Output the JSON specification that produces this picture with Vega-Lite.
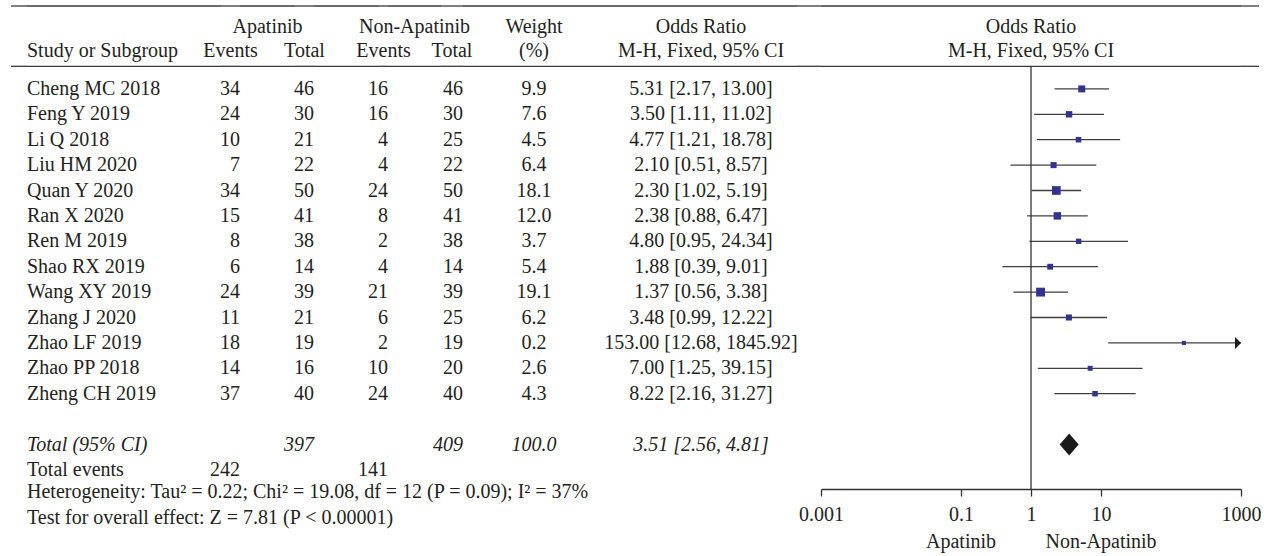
{
"$schema":"https://vega.github.io/schema/vega-lite/v6.json",
"background":"white",
"padding":{"left":10,"top":0,"right":0,"bottom":0},
"spacing":0,
"bounds":"flush",
"data":{"values":[
{"key":"Cheng MC 2018","label":"Cheng MC 2018","kind":"study","ev1":34,"tot1":46,"ev2":16,"tot2":46,"weight":9.9,"or":5.31,"lo":2.17,"hi":13.00,"ci":"5.31 [2.17, 13.00]"},
{"key":"Feng Y 2019","label":"Feng Y 2019","kind":"study","ev1":24,"tot1":30,"ev2":16,"tot2":30,"weight":7.6,"or":3.50,"lo":1.11,"hi":11.02,"ci":"3.50 [1.11, 11.02]"},
{"key":"Li Q 2018","label":"Li Q 2018","kind":"study","ev1":10,"tot1":21,"ev2":4,"tot2":25,"weight":4.5,"or":4.77,"lo":1.21,"hi":18.78,"ci":"4.77 [1.21, 18.78]"},
{"key":"Liu HM 2020","label":"Liu HM 2020","kind":"study","ev1":7,"tot1":22,"ev2":4,"tot2":22,"weight":6.4,"or":2.10,"lo":0.51,"hi":8.57,"ci":"2.10 [0.51, 8.57]"},
{"key":"Quan Y 2020","label":"Quan Y 2020","kind":"study","ev1":34,"tot1":50,"ev2":24,"tot2":50,"weight":18.1,"or":2.30,"lo":1.02,"hi":5.19,"ci":"2.30 [1.02, 5.19]"},
{"key":"Ran X 2020","label":"Ran X 2020","kind":"study","ev1":15,"tot1":41,"ev2":8,"tot2":41,"weight":12.0,"or":2.38,"lo":0.88,"hi":6.47,"ci":"2.38 [0.88, 6.47]"},
{"key":"Ren M 2019","label":"Ren M 2019","kind":"study","ev1":8,"tot1":38,"ev2":2,"tot2":38,"weight":3.7,"or":4.80,"lo":0.95,"hi":24.34,"ci":"4.80 [0.95, 24.34]"},
{"key":"Shao RX 2019","label":"Shao RX 2019","kind":"study","ev1":6,"tot1":14,"ev2":4,"tot2":14,"weight":5.4,"or":1.88,"lo":0.39,"hi":9.01,"ci":"1.88 [0.39, 9.01]"},
{"key":"Wang XY 2019","label":"Wang XY 2019","kind":"study","ev1":24,"tot1":39,"ev2":21,"tot2":39,"weight":19.1,"or":1.37,"lo":0.56,"hi":3.38,"ci":"1.37 [0.56, 3.38]"},
{"key":"Zhang J 2020","label":"Zhang J 2020","kind":"study","ev1":11,"tot1":21,"ev2":6,"tot2":25,"weight":6.2,"or":3.48,"lo":0.99,"hi":12.22,"ci":"3.48 [0.99, 12.22]"},
{"key":"Zhao LF 2019","label":"Zhao LF 2019","kind":"study","ev1":18,"tot1":19,"ev2":2,"tot2":19,"weight":0.2,"or":153.00,"lo":12.68,"hi":1845.92,"ci":"153.00 [12.68, 1845.92]"},
{"key":"Zhao PP 2018","label":"Zhao PP 2018","kind":"study","ev1":14,"tot1":16,"ev2":10,"tot2":20,"weight":2.6,"or":7.00,"lo":1.25,"hi":39.15,"ci":"7.00 [1.25, 39.15]"},
{"key":"Zheng CH 2019","label":"Zheng CH 2019","kind":"study","ev1":37,"tot1":40,"ev2":24,"tot2":40,"weight":4.3,"or":8.22,"lo":2.16,"hi":31.27,"ci":"8.22 [2.16, 31.27]"},
{"key":"total","label":"Total (95% CI)","kind":"total","tot1":397,"tot2":409,"weight":100.0,"or":3.51,"lo":2.56,"hi":4.81,"ci":"3.51 [2.56, 4.81]"},
{"key":"events","label":"Total events","kind":"events","ev1":242,"ev2":141},
{"key":"het","label":"Heterogeneity: Tau² = 0.22; Chi² = 19.08, df = 12 (P = 0.09); I² = 37%","kind":"note"},
{"key":"test","label":"Test for overall effect: Z = 7.81 (P < 0.00001)","kind":"note"}
]},
"hconcat":[
{"width":16,"height":489,"layer":[
 {"data":{"values":[{}]},"mark":{"type":"rule","color":"#3a3a3a","strokeWidth":1.3},"encoding":{"y":{"datum":"top","type":"nominal","bandPosition":0.236,"scale":{"type":"band","domain":["top","h1","h2","Cheng MC 2018","Feng Y 2019","Li Q 2018","Liu HM 2020","Quan Y 2020","Ran X 2020","Ren M 2019","Shao RX 2019","Wang XY 2019","Zhang J 2020","Zhao LF 2019","Zhao PP 2018","Zheng CH 2019","blank","total","events","het","test","sides"],"range":[0,558.8],"paddingInner":0,"paddingOuter":0},"axis":null}}},
 {"data":{"values":[{}]},"mark":{"type":"rule","color":"#3a3a3a","strokeWidth":1.3},"encoding":{"y":{"datum":"h2","type":"nominal","bandPosition":0.61,"scale":{"type":"band","domain":["top","h1","h2","Cheng MC 2018","Feng Y 2019","Li Q 2018","Liu HM 2020","Quan Y 2020","Ran X 2020","Ren M 2019","Shao RX 2019","Wang XY 2019","Zhang J 2020","Zhao LF 2019","Zhao PP 2018","Zheng CH 2019","blank","total","events","het","test","sides"],"range":[0,558.8],"paddingInner":0,"paddingOuter":0},"axis":null}}}
]},
{"width":194,"height":489,"layer":[
 {"data":{"values":[{}]},"mark":{"type":"rule","color":"#3a3a3a","strokeWidth":1.3},"encoding":{"y":{"datum":"top","type":"nominal","bandPosition":0.236,"scale":{"type":"band","domain":["top","h1","h2","Cheng MC 2018","Feng Y 2019","Li Q 2018","Liu HM 2020","Quan Y 2020","Ran X 2020","Ren M 2019","Shao RX 2019","Wang XY 2019","Zhang J 2020","Zhao LF 2019","Zhao PP 2018","Zheng CH 2019","blank","total","events","het","test","sides"],"range":[0,558.8],"paddingInner":0,"paddingOuter":0},"axis":null}}},
 {"data":{"values":[{}]},"mark":{"type":"rule","color":"#3a3a3a","strokeWidth":1.3},"encoding":{"y":{"datum":"h2","type":"nominal","bandPosition":0.61,"scale":{"type":"band","domain":["top","h1","h2","Cheng MC 2018","Feng Y 2019","Li Q 2018","Liu HM 2020","Quan Y 2020","Ran X 2020","Ren M 2019","Shao RX 2019","Wang XY 2019","Zhang J 2020","Zhao LF 2019","Zhao PP 2018","Zheng CH 2019","blank","total","events","het","test","sides"],"range":[0,558.8],"paddingInner":0,"paddingOuter":0},"axis":null}}},
 {"data":{"values":[{}]},"mark":{"type":"text","baseline":"alphabetic","align":"left"},"encoding":{"x":{"datum":"c","type":"nominal","scale":{"type":"band","domain":["c"],"paddingInner":0,"paddingOuter":0},"bandPosition":0,"axis":null},"y":{"datum":"h2","type":"nominal","bandPosition":0.256,"scale":{"type":"band","domain":["top","h1","h2","Cheng MC 2018","Feng Y 2019","Li Q 2018","Liu HM 2020","Quan Y 2020","Ran X 2020","Ren M 2019","Shao RX 2019","Wang XY 2019","Zhang J 2020","Zhao LF 2019","Zhao PP 2018","Zheng CH 2019","blank","total","events","het","test","sides"],"range":[0,558.8],"paddingInner":0,"paddingOuter":0},"axis":null},"text":{"value":"Study or Subgroup"}}},
 {"transform":[{"filter":"datum.kind === 'study' || datum.kind === 'events'"}],"mark":{"type":"text","align":"left"},"encoding":{"x":{"datum":"c","type":"nominal","scale":{"type":"band","domain":["c"],"paddingInner":0,"paddingOuter":0},"bandPosition":0,"axis":null},"y":{"field":"key","type":"nominal","scale":{"type":"band","domain":["top","h1","h2","Cheng MC 2018","Feng Y 2019","Li Q 2018","Liu HM 2020","Quan Y 2020","Ran X 2020","Ren M 2019","Shao RX 2019","Wang XY 2019","Zhang J 2020","Zhao LF 2019","Zhao PP 2018","Zheng CH 2019","blank","total","events","het","test","sides"],"range":[0,558.8],"paddingInner":0,"paddingOuter":0},"axis":null},"text":{"field":"label","type":"nominal"}}},
 {"transform":[{"filter":"datum.kind === 'note'"}],"mark":{"type":"text","align":"left"},"encoding":{"x":{"datum":"c","type":"nominal","scale":{"type":"band","domain":["c"],"paddingInner":0,"paddingOuter":0},"bandPosition":0,"axis":null},"y":{"field":"key","type":"nominal","bandPosition":0.38,"scale":{"type":"band","domain":["top","h1","h2","Cheng MC 2018","Feng Y 2019","Li Q 2018","Liu HM 2020","Quan Y 2020","Ran X 2020","Ren M 2019","Shao RX 2019","Wang XY 2019","Zhang J 2020","Zhao LF 2019","Zhao PP 2018","Zheng CH 2019","blank","total","events","het","test","sides"],"range":[0,558.8],"paddingInner":0,"paddingOuter":0},"axis":null},"text":{"field":"label","type":"nominal"}}},
 {"transform":[{"filter":"datum.kind === 'total'"}],"mark":{"type":"text","align":"left","fontStyle":"italic"},"encoding":{"x":{"datum":"c","type":"nominal","scale":{"type":"band","domain":["c"],"paddingInner":0,"paddingOuter":0},"bandPosition":0,"axis":null},"y":{"field":"key","type":"nominal","scale":{"type":"band","domain":["top","h1","h2","Cheng MC 2018","Feng Y 2019","Li Q 2018","Liu HM 2020","Quan Y 2020","Ran X 2020","Ren M 2019","Shao RX 2019","Wang XY 2019","Zhang J 2020","Zhao LF 2019","Zhao PP 2018","Zheng CH 2019","blank","total","events","het","test","sides"],"range":[0,558.8],"paddingInner":0,"paddingOuter":0},"axis":null},"text":{"field":"label","type":"nominal"}}}
]},
{"width":19,"height":489,"layer":[
 {"data":{"values":[{}]},"mark":{"type":"rule","color":"#3a3a3a","strokeWidth":1.3},"encoding":{"y":{"datum":"top","type":"nominal","bandPosition":0.236,"scale":{"type":"band","domain":["top","h1","h2","Cheng MC 2018","Feng Y 2019","Li Q 2018","Liu HM 2020","Quan Y 2020","Ran X 2020","Ren M 2019","Shao RX 2019","Wang XY 2019","Zhang J 2020","Zhao LF 2019","Zhao PP 2018","Zheng CH 2019","blank","total","events","het","test","sides"],"range":[0,558.8],"paddingInner":0,"paddingOuter":0},"axis":null}}},
 {"data":{"values":[{}]},"mark":{"type":"rule","color":"#3a3a3a","strokeWidth":1.3},"encoding":{"y":{"datum":"h2","type":"nominal","bandPosition":0.61,"scale":{"type":"band","domain":["top","h1","h2","Cheng MC 2018","Feng Y 2019","Li Q 2018","Liu HM 2020","Quan Y 2020","Ran X 2020","Ren M 2019","Shao RX 2019","Wang XY 2019","Zhang J 2020","Zhao LF 2019","Zhao PP 2018","Zheng CH 2019","blank","total","events","het","test","sides"],"range":[0,558.8],"paddingInner":0,"paddingOuter":0},"axis":null}}},
 {"data":{"values":[{}]},"mark":{"type":"text","baseline":"alphabetic"},"encoding":{"y":{"datum":"h2","type":"nominal","bandPosition":0.256,"scale":{"type":"band","domain":["top","h1","h2","Cheng MC 2018","Feng Y 2019","Li Q 2018","Liu HM 2020","Quan Y 2020","Ran X 2020","Ren M 2019","Shao RX 2019","Wang XY 2019","Zhang J 2020","Zhao LF 2019","Zhao PP 2018","Zheng CH 2019","blank","total","events","het","test","sides"],"range":[0,558.8],"paddingInner":0,"paddingOuter":0},"axis":null},"text":{"value":"Events"}}},
 {"transform":[{"filter":{"field":"ev1","valid":true}}],"mark":{"type":"text","align":"right"},"encoding":{"x":{"datum":"c","type":"nominal","scale":{"type":"band","domain":["c"],"paddingInner":0,"paddingOuter":0},"bandPosition":1,"axis":null},"y":{"field":"key","type":"nominal","scale":{"type":"band","domain":["top","h1","h2","Cheng MC 2018","Feng Y 2019","Li Q 2018","Liu HM 2020","Quan Y 2020","Ran X 2020","Ren M 2019","Shao RX 2019","Wang XY 2019","Zhang J 2020","Zhao LF 2019","Zhao PP 2018","Zheng CH 2019","blank","total","events","het","test","sides"],"range":[0,558.8],"paddingInner":0,"paddingOuter":0},"axis":null},"text":{"field":"ev1","type":"quantitative","format":"d"}}}
]},
{"width":55,"height":489,"layer":[
 {"data":{"values":[{}]},"mark":{"type":"rule","color":"#3a3a3a","strokeWidth":1.3},"encoding":{"y":{"datum":"top","type":"nominal","bandPosition":0.236,"scale":{"type":"band","domain":["top","h1","h2","Cheng MC 2018","Feng Y 2019","Li Q 2018","Liu HM 2020","Quan Y 2020","Ran X 2020","Ren M 2019","Shao RX 2019","Wang XY 2019","Zhang J 2020","Zhao LF 2019","Zhao PP 2018","Zheng CH 2019","blank","total","events","het","test","sides"],"range":[0,558.8],"paddingInner":0,"paddingOuter":0},"axis":null}}},
 {"data":{"values":[{}]},"mark":{"type":"rule","color":"#3a3a3a","strokeWidth":1.3},"encoding":{"y":{"datum":"h2","type":"nominal","bandPosition":0.61,"scale":{"type":"band","domain":["top","h1","h2","Cheng MC 2018","Feng Y 2019","Li Q 2018","Liu HM 2020","Quan Y 2020","Ran X 2020","Ren M 2019","Shao RX 2019","Wang XY 2019","Zhang J 2020","Zhao LF 2019","Zhao PP 2018","Zheng CH 2019","blank","total","events","het","test","sides"],"range":[0,558.8],"paddingInner":0,"paddingOuter":0},"axis":null}}},
 {"data":{"values":[{}]},"mark":{"type":"text","baseline":"alphabetic"},"encoding":{"y":{"datum":"h1","type":"nominal","bandPosition":0.28,"scale":{"type":"band","domain":["top","h1","h2","Cheng MC 2018","Feng Y 2019","Li Q 2018","Liu HM 2020","Quan Y 2020","Ran X 2020","Ren M 2019","Shao RX 2019","Wang XY 2019","Zhang J 2020","Zhao LF 2019","Zhao PP 2018","Zheng CH 2019","blank","total","events","het","test","sides"],"range":[0,558.8],"paddingInner":0,"paddingOuter":0},"axis":null},"text":{"value":"Apatinib"}}}
]},
{"width":19,"height":489,"layer":[
 {"data":{"values":[{}]},"mark":{"type":"rule","color":"#3a3a3a","strokeWidth":1.3},"encoding":{"y":{"datum":"top","type":"nominal","bandPosition":0.236,"scale":{"type":"band","domain":["top","h1","h2","Cheng MC 2018","Feng Y 2019","Li Q 2018","Liu HM 2020","Quan Y 2020","Ran X 2020","Ren M 2019","Shao RX 2019","Wang XY 2019","Zhang J 2020","Zhao LF 2019","Zhao PP 2018","Zheng CH 2019","blank","total","events","het","test","sides"],"range":[0,558.8],"paddingInner":0,"paddingOuter":0},"axis":null}}},
 {"data":{"values":[{}]},"mark":{"type":"rule","color":"#3a3a3a","strokeWidth":1.3},"encoding":{"y":{"datum":"h2","type":"nominal","bandPosition":0.61,"scale":{"type":"band","domain":["top","h1","h2","Cheng MC 2018","Feng Y 2019","Li Q 2018","Liu HM 2020","Quan Y 2020","Ran X 2020","Ren M 2019","Shao RX 2019","Wang XY 2019","Zhang J 2020","Zhao LF 2019","Zhao PP 2018","Zheng CH 2019","blank","total","events","het","test","sides"],"range":[0,558.8],"paddingInner":0,"paddingOuter":0},"axis":null}}},
 {"data":{"values":[{}]},"mark":{"type":"text","baseline":"alphabetic"},"encoding":{"y":{"datum":"h2","type":"nominal","bandPosition":0.256,"scale":{"type":"band","domain":["top","h1","h2","Cheng MC 2018","Feng Y 2019","Li Q 2018","Liu HM 2020","Quan Y 2020","Ran X 2020","Ren M 2019","Shao RX 2019","Wang XY 2019","Zhang J 2020","Zhao LF 2019","Zhao PP 2018","Zheng CH 2019","blank","total","events","het","test","sides"],"range":[0,558.8],"paddingInner":0,"paddingOuter":0},"axis":null},"text":{"value":"Total"}}},
 {"transform":[{"filter":"isValid(datum.tot1) && datum.kind !== 'total'"}],"mark":{"type":"text","align":"right"},"encoding":{"x":{"datum":"c","type":"nominal","scale":{"type":"band","domain":["c"],"paddingInner":0,"paddingOuter":0},"bandPosition":1,"axis":null},"y":{"field":"key","type":"nominal","scale":{"type":"band","domain":["top","h1","h2","Cheng MC 2018","Feng Y 2019","Li Q 2018","Liu HM 2020","Quan Y 2020","Ran X 2020","Ren M 2019","Shao RX 2019","Wang XY 2019","Zhang J 2020","Zhao LF 2019","Zhao PP 2018","Zheng CH 2019","blank","total","events","het","test","sides"],"range":[0,558.8],"paddingInner":0,"paddingOuter":0},"axis":null},"text":{"field":"tot1","type":"quantitative","format":"d"}}},
 {"transform":[{"filter":"datum.kind === 'total'"}],"mark":{"type":"text","align":"right","fontStyle":"italic"},"encoding":{"x":{"datum":"c","type":"nominal","scale":{"type":"band","domain":["c"],"paddingInner":0,"paddingOuter":0},"bandPosition":1,"axis":null},"y":{"field":"key","type":"nominal","scale":{"type":"band","domain":["top","h1","h2","Cheng MC 2018","Feng Y 2019","Li Q 2018","Liu HM 2020","Quan Y 2020","Ran X 2020","Ren M 2019","Shao RX 2019","Wang XY 2019","Zhang J 2020","Zhao LF 2019","Zhao PP 2018","Zheng CH 2019","blank","total","events","het","test","sides"],"range":[0,558.8],"paddingInner":0,"paddingOuter":0},"axis":null},"text":{"field":"tot1","type":"quantitative","format":"d"}}}
]},
{"width":65,"height":489,"layer":[
 {"data":{"values":[{}]},"mark":{"type":"rule","color":"#3a3a3a","strokeWidth":1.3},"encoding":{"y":{"datum":"top","type":"nominal","bandPosition":0.236,"scale":{"type":"band","domain":["top","h1","h2","Cheng MC 2018","Feng Y 2019","Li Q 2018","Liu HM 2020","Quan Y 2020","Ran X 2020","Ren M 2019","Shao RX 2019","Wang XY 2019","Zhang J 2020","Zhao LF 2019","Zhao PP 2018","Zheng CH 2019","blank","total","events","het","test","sides"],"range":[0,558.8],"paddingInner":0,"paddingOuter":0},"axis":null}}},
 {"data":{"values":[{}]},"mark":{"type":"rule","color":"#3a3a3a","strokeWidth":1.3},"encoding":{"y":{"datum":"h2","type":"nominal","bandPosition":0.61,"scale":{"type":"band","domain":["top","h1","h2","Cheng MC 2018","Feng Y 2019","Li Q 2018","Liu HM 2020","Quan Y 2020","Ran X 2020","Ren M 2019","Shao RX 2019","Wang XY 2019","Zhang J 2020","Zhao LF 2019","Zhao PP 2018","Zheng CH 2019","blank","total","events","het","test","sides"],"range":[0,558.8],"paddingInner":0,"paddingOuter":0},"axis":null}}}
]},
{"width":9,"height":489,"layer":[
 {"data":{"values":[{}]},"mark":{"type":"rule","color":"#3a3a3a","strokeWidth":1.3},"encoding":{"y":{"datum":"top","type":"nominal","bandPosition":0.236,"scale":{"type":"band","domain":["top","h1","h2","Cheng MC 2018","Feng Y 2019","Li Q 2018","Liu HM 2020","Quan Y 2020","Ran X 2020","Ren M 2019","Shao RX 2019","Wang XY 2019","Zhang J 2020","Zhao LF 2019","Zhao PP 2018","Zheng CH 2019","blank","total","events","het","test","sides"],"range":[0,558.8],"paddingInner":0,"paddingOuter":0},"axis":null}}},
 {"data":{"values":[{}]},"mark":{"type":"rule","color":"#3a3a3a","strokeWidth":1.3},"encoding":{"y":{"datum":"h2","type":"nominal","bandPosition":0.61,"scale":{"type":"band","domain":["top","h1","h2","Cheng MC 2018","Feng Y 2019","Li Q 2018","Liu HM 2020","Quan Y 2020","Ran X 2020","Ren M 2019","Shao RX 2019","Wang XY 2019","Zhang J 2020","Zhao LF 2019","Zhao PP 2018","Zheng CH 2019","blank","total","events","het","test","sides"],"range":[0,558.8],"paddingInner":0,"paddingOuter":0},"axis":null}}},
 {"data":{"values":[{}]},"mark":{"type":"text","baseline":"alphabetic"},"encoding":{"y":{"datum":"h2","type":"nominal","bandPosition":0.256,"scale":{"type":"band","domain":["top","h1","h2","Cheng MC 2018","Feng Y 2019","Li Q 2018","Liu HM 2020","Quan Y 2020","Ran X 2020","Ren M 2019","Shao RX 2019","Wang XY 2019","Zhang J 2020","Zhao LF 2019","Zhao PP 2018","Zheng CH 2019","blank","total","events","het","test","sides"],"range":[0,558.8],"paddingInner":0,"paddingOuter":0},"axis":null},"text":{"value":"Events"}}},
 {"transform":[{"filter":{"field":"ev2","valid":true}}],"mark":{"type":"text","align":"right"},"encoding":{"x":{"datum":"c","type":"nominal","scale":{"type":"band","domain":["c"],"paddingInner":0,"paddingOuter":0},"bandPosition":1,"axis":null},"y":{"field":"key","type":"nominal","scale":{"type":"band","domain":["top","h1","h2","Cheng MC 2018","Feng Y 2019","Li Q 2018","Liu HM 2020","Quan Y 2020","Ran X 2020","Ren M 2019","Shao RX 2019","Wang XY 2019","Zhang J 2020","Zhao LF 2019","Zhao PP 2018","Zheng CH 2019","blank","total","events","het","test","sides"],"range":[0,558.8],"paddingInner":0,"paddingOuter":0},"axis":null},"text":{"field":"ev2","type":"quantitative","format":"d"}}}
]},
{"width":53,"height":489,"layer":[
 {"data":{"values":[{}]},"mark":{"type":"rule","color":"#3a3a3a","strokeWidth":1.3},"encoding":{"y":{"datum":"top","type":"nominal","bandPosition":0.236,"scale":{"type":"band","domain":["top","h1","h2","Cheng MC 2018","Feng Y 2019","Li Q 2018","Liu HM 2020","Quan Y 2020","Ran X 2020","Ren M 2019","Shao RX 2019","Wang XY 2019","Zhang J 2020","Zhao LF 2019","Zhao PP 2018","Zheng CH 2019","blank","total","events","het","test","sides"],"range":[0,558.8],"paddingInner":0,"paddingOuter":0},"axis":null}}},
 {"data":{"values":[{}]},"mark":{"type":"rule","color":"#3a3a3a","strokeWidth":1.3},"encoding":{"y":{"datum":"h2","type":"nominal","bandPosition":0.61,"scale":{"type":"band","domain":["top","h1","h2","Cheng MC 2018","Feng Y 2019","Li Q 2018","Liu HM 2020","Quan Y 2020","Ran X 2020","Ren M 2019","Shao RX 2019","Wang XY 2019","Zhang J 2020","Zhao LF 2019","Zhao PP 2018","Zheng CH 2019","blank","total","events","het","test","sides"],"range":[0,558.8],"paddingInner":0,"paddingOuter":0},"axis":null}}},
 {"data":{"values":[{}]},"mark":{"type":"text","baseline":"alphabetic"},"encoding":{"y":{"datum":"h1","type":"nominal","bandPosition":0.28,"scale":{"type":"band","domain":["top","h1","h2","Cheng MC 2018","Feng Y 2019","Li Q 2018","Liu HM 2020","Quan Y 2020","Ran X 2020","Ren M 2019","Shao RX 2019","Wang XY 2019","Zhang J 2020","Zhao LF 2019","Zhao PP 2018","Zheng CH 2019","blank","total","events","het","test","sides"],"range":[0,558.8],"paddingInner":0,"paddingOuter":0},"axis":null},"text":{"value":"Non-Apatinib"}}}
]},
{"width":22,"height":489,"layer":[
 {"data":{"values":[{}]},"mark":{"type":"rule","color":"#3a3a3a","strokeWidth":1.3},"encoding":{"y":{"datum":"top","type":"nominal","bandPosition":0.236,"scale":{"type":"band","domain":["top","h1","h2","Cheng MC 2018","Feng Y 2019","Li Q 2018","Liu HM 2020","Quan Y 2020","Ran X 2020","Ren M 2019","Shao RX 2019","Wang XY 2019","Zhang J 2020","Zhao LF 2019","Zhao PP 2018","Zheng CH 2019","blank","total","events","het","test","sides"],"range":[0,558.8],"paddingInner":0,"paddingOuter":0},"axis":null}}},
 {"data":{"values":[{}]},"mark":{"type":"rule","color":"#3a3a3a","strokeWidth":1.3},"encoding":{"y":{"datum":"h2","type":"nominal","bandPosition":0.61,"scale":{"type":"band","domain":["top","h1","h2","Cheng MC 2018","Feng Y 2019","Li Q 2018","Liu HM 2020","Quan Y 2020","Ran X 2020","Ren M 2019","Shao RX 2019","Wang XY 2019","Zhang J 2020","Zhao LF 2019","Zhao PP 2018","Zheng CH 2019","blank","total","events","het","test","sides"],"range":[0,558.8],"paddingInner":0,"paddingOuter":0},"axis":null}}},
 {"data":{"values":[{}]},"mark":{"type":"text","baseline":"alphabetic"},"encoding":{"y":{"datum":"h2","type":"nominal","bandPosition":0.256,"scale":{"type":"band","domain":["top","h1","h2","Cheng MC 2018","Feng Y 2019","Li Q 2018","Liu HM 2020","Quan Y 2020","Ran X 2020","Ren M 2019","Shao RX 2019","Wang XY 2019","Zhang J 2020","Zhao LF 2019","Zhao PP 2018","Zheng CH 2019","blank","total","events","het","test","sides"],"range":[0,558.8],"paddingInner":0,"paddingOuter":0},"axis":null},"text":{"value":"Total"}}},
 {"transform":[{"filter":"isValid(datum.tot2) && datum.kind !== 'total'"}],"mark":{"type":"text","align":"right"},"encoding":{"x":{"datum":"c","type":"nominal","scale":{"type":"band","domain":["c"],"paddingInner":0,"paddingOuter":0},"bandPosition":1,"axis":null},"y":{"field":"key","type":"nominal","scale":{"type":"band","domain":["top","h1","h2","Cheng MC 2018","Feng Y 2019","Li Q 2018","Liu HM 2020","Quan Y 2020","Ran X 2020","Ren M 2019","Shao RX 2019","Wang XY 2019","Zhang J 2020","Zhao LF 2019","Zhao PP 2018","Zheng CH 2019","blank","total","events","het","test","sides"],"range":[0,558.8],"paddingInner":0,"paddingOuter":0},"axis":null},"text":{"field":"tot2","type":"quantitative","format":"d"}}},
 {"transform":[{"filter":"datum.kind === 'total'"}],"mark":{"type":"text","align":"right","fontStyle":"italic"},"encoding":{"x":{"datum":"c","type":"nominal","scale":{"type":"band","domain":["c"],"paddingInner":0,"paddingOuter":0},"bandPosition":1,"axis":null},"y":{"field":"key","type":"nominal","scale":{"type":"band","domain":["top","h1","h2","Cheng MC 2018","Feng Y 2019","Li Q 2018","Liu HM 2020","Quan Y 2020","Ran X 2020","Ren M 2019","Shao RX 2019","Wang XY 2019","Zhang J 2020","Zhao LF 2019","Zhao PP 2018","Zheng CH 2019","blank","total","events","het","test","sides"],"range":[0,558.8],"paddingInner":0,"paddingOuter":0},"axis":null},"text":{"field":"tot2","type":"quantitative","format":"d"}}}
]},
{"width":142,"height":489,"layer":[
 {"data":{"values":[{}]},"mark":{"type":"rule","color":"#3a3a3a","strokeWidth":1.3},"encoding":{"y":{"datum":"top","type":"nominal","bandPosition":0.236,"scale":{"type":"band","domain":["top","h1","h2","Cheng MC 2018","Feng Y 2019","Li Q 2018","Liu HM 2020","Quan Y 2020","Ran X 2020","Ren M 2019","Shao RX 2019","Wang XY 2019","Zhang J 2020","Zhao LF 2019","Zhao PP 2018","Zheng CH 2019","blank","total","events","het","test","sides"],"range":[0,558.8],"paddingInner":0,"paddingOuter":0},"axis":null}}},
 {"data":{"values":[{}]},"mark":{"type":"rule","color":"#3a3a3a","strokeWidth":1.3},"encoding":{"y":{"datum":"h2","type":"nominal","bandPosition":0.61,"scale":{"type":"band","domain":["top","h1","h2","Cheng MC 2018","Feng Y 2019","Li Q 2018","Liu HM 2020","Quan Y 2020","Ran X 2020","Ren M 2019","Shao RX 2019","Wang XY 2019","Zhang J 2020","Zhao LF 2019","Zhao PP 2018","Zheng CH 2019","blank","total","events","het","test","sides"],"range":[0,558.8],"paddingInner":0,"paddingOuter":0},"axis":null}}},
 {"data":{"values":[{}]},"mark":{"type":"text","baseline":"alphabetic"},"encoding":{"y":{"datum":"h1","type":"nominal","bandPosition":0.28,"scale":{"type":"band","domain":["top","h1","h2","Cheng MC 2018","Feng Y 2019","Li Q 2018","Liu HM 2020","Quan Y 2020","Ran X 2020","Ren M 2019","Shao RX 2019","Wang XY 2019","Zhang J 2020","Zhao LF 2019","Zhao PP 2018","Zheng CH 2019","blank","total","events","het","test","sides"],"range":[0,558.8],"paddingInner":0,"paddingOuter":0},"axis":null},"text":{"value":"Weight"}}},
 {"data":{"values":[{}]},"mark":{"type":"text","baseline":"alphabetic"},"encoding":{"y":{"datum":"h2","type":"nominal","bandPosition":0.256,"scale":{"type":"band","domain":["top","h1","h2","Cheng MC 2018","Feng Y 2019","Li Q 2018","Liu HM 2020","Quan Y 2020","Ran X 2020","Ren M 2019","Shao RX 2019","Wang XY 2019","Zhang J 2020","Zhao LF 2019","Zhao PP 2018","Zheng CH 2019","blank","total","events","het","test","sides"],"range":[0,558.8],"paddingInner":0,"paddingOuter":0},"axis":null},"text":{"value":"(%)"}}},
 {"transform":[{"filter":"datum.kind === 'study'"}],"mark":{"type":"text"},"encoding":{"y":{"field":"key","type":"nominal","scale":{"type":"band","domain":["top","h1","h2","Cheng MC 2018","Feng Y 2019","Li Q 2018","Liu HM 2020","Quan Y 2020","Ran X 2020","Ren M 2019","Shao RX 2019","Wang XY 2019","Zhang J 2020","Zhao LF 2019","Zhao PP 2018","Zheng CH 2019","blank","total","events","het","test","sides"],"range":[0,558.8],"paddingInner":0,"paddingOuter":0},"axis":null},"text":{"field":"weight","type":"quantitative","format":".1f"}}},
 {"transform":[{"filter":"datum.kind === 'total'"}],"mark":{"type":"text","fontStyle":"italic"},"encoding":{"y":{"field":"key","type":"nominal","scale":{"type":"band","domain":["top","h1","h2","Cheng MC 2018","Feng Y 2019","Li Q 2018","Liu HM 2020","Quan Y 2020","Ran X 2020","Ren M 2019","Shao RX 2019","Wang XY 2019","Zhang J 2020","Zhao LF 2019","Zhao PP 2018","Zheng CH 2019","blank","total","events","het","test","sides"],"range":[0,558.8],"paddingInner":0,"paddingOuter":0},"axis":null},"text":{"field":"weight","type":"quantitative","format":".1f"}}}
]},
{"width":192,"height":489,"layer":[
 {"data":{"values":[{}]},"mark":{"type":"rule","color":"#3a3a3a","strokeWidth":1.3},"encoding":{"y":{"datum":"top","type":"nominal","bandPosition":0.236,"scale":{"type":"band","domain":["top","h1","h2","Cheng MC 2018","Feng Y 2019","Li Q 2018","Liu HM 2020","Quan Y 2020","Ran X 2020","Ren M 2019","Shao RX 2019","Wang XY 2019","Zhang J 2020","Zhao LF 2019","Zhao PP 2018","Zheng CH 2019","blank","total","events","het","test","sides"],"range":[0,558.8],"paddingInner":0,"paddingOuter":0},"axis":null}}},
 {"data":{"values":[{}]},"mark":{"type":"rule","color":"#3a3a3a","strokeWidth":1.3},"encoding":{"y":{"datum":"h2","type":"nominal","bandPosition":0.61,"scale":{"type":"band","domain":["top","h1","h2","Cheng MC 2018","Feng Y 2019","Li Q 2018","Liu HM 2020","Quan Y 2020","Ran X 2020","Ren M 2019","Shao RX 2019","Wang XY 2019","Zhang J 2020","Zhao LF 2019","Zhao PP 2018","Zheng CH 2019","blank","total","events","het","test","sides"],"range":[0,558.8],"paddingInner":0,"paddingOuter":0},"axis":null}}},
 {"data":{"values":[{}]},"mark":{"type":"text","baseline":"alphabetic"},"encoding":{"y":{"datum":"h1","type":"nominal","bandPosition":0.28,"scale":{"type":"band","domain":["top","h1","h2","Cheng MC 2018","Feng Y 2019","Li Q 2018","Liu HM 2020","Quan Y 2020","Ran X 2020","Ren M 2019","Shao RX 2019","Wang XY 2019","Zhang J 2020","Zhao LF 2019","Zhao PP 2018","Zheng CH 2019","blank","total","events","het","test","sides"],"range":[0,558.8],"paddingInner":0,"paddingOuter":0},"axis":null},"text":{"value":"Odds Ratio"}}},
 {"data":{"values":[{}]},"mark":{"type":"text","baseline":"alphabetic"},"encoding":{"y":{"datum":"h2","type":"nominal","bandPosition":0.256,"scale":{"type":"band","domain":["top","h1","h2","Cheng MC 2018","Feng Y 2019","Li Q 2018","Liu HM 2020","Quan Y 2020","Ran X 2020","Ren M 2019","Shao RX 2019","Wang XY 2019","Zhang J 2020","Zhao LF 2019","Zhao PP 2018","Zheng CH 2019","blank","total","events","het","test","sides"],"range":[0,558.8],"paddingInner":0,"paddingOuter":0},"axis":null},"text":{"value":"M-H, Fixed, 95% CI"}}},
 {"transform":[{"filter":"datum.kind === 'study'"}],"mark":{"type":"text"},"encoding":{"y":{"field":"key","type":"nominal","scale":{"type":"band","domain":["top","h1","h2","Cheng MC 2018","Feng Y 2019","Li Q 2018","Liu HM 2020","Quan Y 2020","Ran X 2020","Ren M 2019","Shao RX 2019","Wang XY 2019","Zhang J 2020","Zhao LF 2019","Zhao PP 2018","Zheng CH 2019","blank","total","events","het","test","sides"],"range":[0,558.8],"paddingInner":0,"paddingOuter":0},"axis":null},"text":{"field":"ci","type":"nominal"}}},
 {"transform":[{"filter":"datum.kind === 'total'"}],"mark":{"type":"text","fontStyle":"italic"},"encoding":{"y":{"field":"key","type":"nominal","scale":{"type":"band","domain":["top","h1","h2","Cheng MC 2018","Feng Y 2019","Li Q 2018","Liu HM 2020","Quan Y 2020","Ran X 2020","Ren M 2019","Shao RX 2019","Wang XY 2019","Zhang J 2020","Zhao LF 2019","Zhao PP 2018","Zheng CH 2019","blank","total","events","het","test","sides"],"range":[0,558.8],"paddingInner":0,"paddingOuter":0},"axis":null},"text":{"field":"ci","type":"nominal"}}}
]},
{"width":24,"height":489,"layer":[
 {"data":{"values":[{}]},"mark":{"type":"rule","color":"#3a3a3a","strokeWidth":1.3},"encoding":{"y":{"datum":"top","type":"nominal","bandPosition":0.236,"scale":{"type":"band","domain":["top","h1","h2","Cheng MC 2018","Feng Y 2019","Li Q 2018","Liu HM 2020","Quan Y 2020","Ran X 2020","Ren M 2019","Shao RX 2019","Wang XY 2019","Zhang J 2020","Zhao LF 2019","Zhao PP 2018","Zheng CH 2019","blank","total","events","het","test","sides"],"range":[0,558.8],"paddingInner":0,"paddingOuter":0},"axis":null}}},
 {"data":{"values":[{}]},"mark":{"type":"rule","color":"#3a3a3a","strokeWidth":1.3},"encoding":{"y":{"datum":"h2","type":"nominal","bandPosition":0.61,"scale":{"type":"band","domain":["top","h1","h2","Cheng MC 2018","Feng Y 2019","Li Q 2018","Liu HM 2020","Quan Y 2020","Ran X 2020","Ren M 2019","Shao RX 2019","Wang XY 2019","Zhang J 2020","Zhao LF 2019","Zhao PP 2018","Zheng CH 2019","blank","total","events","het","test","sides"],"range":[0,558.8],"paddingInner":0,"paddingOuter":0},"axis":null}}}
]},
{"width":420,"height":489,"layer":[
 {"data":{"values":[{}]},"mark":{"type":"rule","color":"#3a3a3a","strokeWidth":1.3},"encoding":{"y":{"datum":"top","type":"nominal","bandPosition":0.236,"scale":{"type":"band","domain":["top","h1","h2","Cheng MC 2018","Feng Y 2019","Li Q 2018","Liu HM 2020","Quan Y 2020","Ran X 2020","Ren M 2019","Shao RX 2019","Wang XY 2019","Zhang J 2020","Zhao LF 2019","Zhao PP 2018","Zheng CH 2019","blank","total","events","het","test","sides"],"range":[0,558.8],"paddingInner":0,"paddingOuter":0},"axis":null}}},
 {"data":{"values":[{}]},"mark":{"type":"rule","color":"#3a3a3a","strokeWidth":1.3},"encoding":{"y":{"datum":"h2","type":"nominal","bandPosition":0.61,"scale":{"type":"band","domain":["top","h1","h2","Cheng MC 2018","Feng Y 2019","Li Q 2018","Liu HM 2020","Quan Y 2020","Ran X 2020","Ren M 2019","Shao RX 2019","Wang XY 2019","Zhang J 2020","Zhao LF 2019","Zhao PP 2018","Zheng CH 2019","blank","total","events","het","test","sides"],"range":[0,558.8],"paddingInner":0,"paddingOuter":0},"axis":null}}},
 {"transform":[{"filter":"datum.kind === 'study'"}],"mark":{"type":"rule","color":"#404040","strokeWidth":1.3,"clip":true},"encoding":{"x":{"field":"lo","type":"quantitative","scale":{"type":"log","domain":[0.001,1000],"nice":false},"axis":{"values":[0.001,0.1,1,10,1000],"format":"~g","grid":false,"title":null,"tickSize":7,"labelPadding":8,"domainColor":"#333333","tickColor":"#333333","domainWidth":1.3,"tickWidth":1.3,"labelFont":"Liberation Serif","labelFontSize":20,"labelColor":"#231f20","labelFlush":false,"labelOverlap":false}},"x2":{"field":"hi"},"y":{"field":"key","type":"nominal","scale":{"type":"band","domain":["top","h1","h2","Cheng MC 2018","Feng Y 2019","Li Q 2018","Liu HM 2020","Quan Y 2020","Ran X 2020","Ren M 2019","Shao RX 2019","Wang XY 2019","Zhang J 2020","Zhao LF 2019","Zhao PP 2018","Zheng CH 2019","blank","total","events","het","test","sides"],"range":[0,558.8],"paddingInner":0,"paddingOuter":0},"axis":null}}},
 {"data":{"values":[{}]},"mark":{"type":"rule","color":"#333333","strokeWidth":1.3},"encoding":{"x":{"datum":1,"type":"quantitative"},"y":{"datum":"h2","type":"nominal","bandPosition":0.61,"scale":{"type":"band","domain":["top","h1","h2","Cheng MC 2018","Feng Y 2019","Li Q 2018","Liu HM 2020","Quan Y 2020","Ran X 2020","Ren M 2019","Shao RX 2019","Wang XY 2019","Zhang J 2020","Zhao LF 2019","Zhao PP 2018","Zheng CH 2019","blank","total","events","het","test","sides"],"range":[0,558.8],"paddingInner":0,"paddingOuter":0},"axis":null},"y2":{"datum":"het","bandPosition":0.264}}},
 {"transform":[{"filter":"datum.kind === 'study'"}],"mark":{"type":"square","color":"#32338f","opacity":1,"filled":true},"encoding":{"x":{"field":"or","type":"quantitative"},"y":{"field":"key","type":"nominal","scale":{"type":"band","domain":["top","h1","h2","Cheng MC 2018","Feng Y 2019","Li Q 2018","Liu HM 2020","Quan Y 2020","Ran X 2020","Ren M 2019","Shao RX 2019","Wang XY 2019","Zhang J 2020","Zhao LF 2019","Zhao PP 2018","Zheng CH 2019","blank","total","events","het","test","sides"],"range":[0,558.8],"paddingInner":0,"paddingOuter":0},"axis":null},"size":{"field":"weight","type":"quantitative","scale":{"domain":[0,20],"range":[16,82]},"legend":null}}},
 {"transform":[{"filter":"datum.kind === 'study' && datum.hi > 1000"}],"mark":{"type":"point","shape":"M-0.5,-1L0.5,0L-0.5,1Z","filled":true,"opacity":1,"color":"#1a1a1a","size":144,"xOffset":-3},"encoding":{"x":{"datum":1000,"type":"quantitative"},"y":{"field":"key","type":"nominal","scale":{"type":"band","domain":["top","h1","h2","Cheng MC 2018","Feng Y 2019","Li Q 2018","Liu HM 2020","Quan Y 2020","Ran X 2020","Ren M 2019","Shao RX 2019","Wang XY 2019","Zhang J 2020","Zhao LF 2019","Zhao PP 2018","Zheng CH 2019","blank","total","events","het","test","sides"],"range":[0,558.8],"paddingInner":0,"paddingOuter":0},"axis":null}}},
 {"transform":[{"filter":"datum.kind === 'total'"}],"mark":{"type":"point","shape":"M-0.86,0L0,-1L0.86,0L0,1Z","filled":true,"opacity":1,"color":"#1a1a1a","size":484},"encoding":{"x":{"field":"or","type":"quantitative"},"y":{"field":"key","type":"nominal","scale":{"type":"band","domain":["top","h1","h2","Cheng MC 2018","Feng Y 2019","Li Q 2018","Liu HM 2020","Quan Y 2020","Ran X 2020","Ren M 2019","Shao RX 2019","Wang XY 2019","Zhang J 2020","Zhao LF 2019","Zhao PP 2018","Zheng CH 2019","blank","total","events","het","test","sides"],"range":[0,558.8],"paddingInner":0,"paddingOuter":0},"axis":null}}},
 {"data":{"values":[{}]},"mark":{"type":"text","baseline":"alphabetic"},"encoding":{"x":{"datum":1,"type":"quantitative"},"y":{"datum":"h1","type":"nominal","bandPosition":0.28,"scale":{"type":"band","domain":["top","h1","h2","Cheng MC 2018","Feng Y 2019","Li Q 2018","Liu HM 2020","Quan Y 2020","Ran X 2020","Ren M 2019","Shao RX 2019","Wang XY 2019","Zhang J 2020","Zhao LF 2019","Zhao PP 2018","Zheng CH 2019","blank","total","events","het","test","sides"],"range":[0,558.8],"paddingInner":0,"paddingOuter":0},"axis":null},"text":{"value":"Odds Ratio"}}},
 {"data":{"values":[{}]},"mark":{"type":"text","baseline":"alphabetic"},"encoding":{"x":{"datum":1,"type":"quantitative"},"y":{"datum":"h2","type":"nominal","bandPosition":0.256,"scale":{"type":"band","domain":["top","h1","h2","Cheng MC 2018","Feng Y 2019","Li Q 2018","Liu HM 2020","Quan Y 2020","Ran X 2020","Ren M 2019","Shao RX 2019","Wang XY 2019","Zhang J 2020","Zhao LF 2019","Zhao PP 2018","Zheng CH 2019","blank","total","events","het","test","sides"],"range":[0,558.8],"paddingInner":0,"paddingOuter":0},"axis":null},"text":{"value":"M-H, Fixed, 95% CI"}}},
 {"data":{"values":[{}]},"mark":{"type":"text","baseline":"alphabetic"},"encoding":{"x":{"datum":0.1,"type":"quantitative"},"y":{"datum":"sides","type":"nominal","bandPosition":0.575,"scale":{"type":"band","domain":["top","h1","h2","Cheng MC 2018","Feng Y 2019","Li Q 2018","Liu HM 2020","Quan Y 2020","Ran X 2020","Ren M 2019","Shao RX 2019","Wang XY 2019","Zhang J 2020","Zhao LF 2019","Zhao PP 2018","Zheng CH 2019","blank","total","events","het","test","sides"],"range":[0,558.8],"paddingInner":0,"paddingOuter":0},"axis":null},"text":{"value":"Apatinib"}}},
 {"data":{"values":[{}]},"mark":{"type":"text","baseline":"alphabetic"},"encoding":{"x":{"datum":10,"type":"quantitative"},"y":{"datum":"sides","type":"nominal","bandPosition":0.575,"scale":{"type":"band","domain":["top","h1","h2","Cheng MC 2018","Feng Y 2019","Li Q 2018","Liu HM 2020","Quan Y 2020","Ran X 2020","Ren M 2019","Shao RX 2019","Wang XY 2019","Zhang J 2020","Zhao LF 2019","Zhao PP 2018","Zheng CH 2019","blank","total","events","het","test","sides"],"range":[0,558.8],"paddingInner":0,"paddingOuter":0},"axis":null},"text":{"value":"Non-Apatinib"}}}
]},
{"width":18,"height":489,"layer":[
 {"data":{"values":[{}]},"mark":{"type":"rule","color":"#3a3a3a","strokeWidth":1.3},"encoding":{"y":{"datum":"top","type":"nominal","bandPosition":0.236,"scale":{"type":"band","domain":["top","h1","h2","Cheng MC 2018","Feng Y 2019","Li Q 2018","Liu HM 2020","Quan Y 2020","Ran X 2020","Ren M 2019","Shao RX 2019","Wang XY 2019","Zhang J 2020","Zhao LF 2019","Zhao PP 2018","Zheng CH 2019","blank","total","events","het","test","sides"],"range":[0,558.8],"paddingInner":0,"paddingOuter":0},"axis":null}}},
 {"data":{"values":[{}]},"mark":{"type":"rule","color":"#3a3a3a","strokeWidth":1.3},"encoding":{"y":{"datum":"h2","type":"nominal","bandPosition":0.61,"scale":{"type":"band","domain":["top","h1","h2","Cheng MC 2018","Feng Y 2019","Li Q 2018","Liu HM 2020","Quan Y 2020","Ran X 2020","Ren M 2019","Shao RX 2019","Wang XY 2019","Zhang J 2020","Zhao LF 2019","Zhao PP 2018","Zheng CH 2019","blank","total","events","het","test","sides"],"range":[0,558.8],"paddingInner":0,"paddingOuter":0},"axis":null}}}
]}
],
"config":{
 "view":{"stroke":null},
 "text":{"font":"Liberation Serif","fontSize":20,"color":"#231f20","baseline":"middle"}
}
}
